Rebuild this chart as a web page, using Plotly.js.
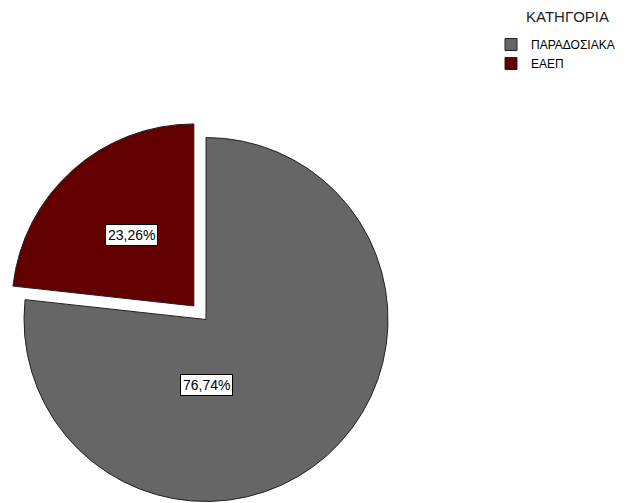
<!DOCTYPE html>
<html>
<head>
<meta charset="utf-8">
<script src="https://cdn.plot.ly/plotly-3.0.1.min.js"></script>
<style>
html,body{margin:0;padding:0;overflow:hidden;background:#fff;}
#chart{width:630px;height:640px;}
</style>
</head>
<body>
<div id="chart"></div>
<script>
// ---- data ----
var categories = ["ΠΑΡΑΔΟΣΙΑΚΑ", "ΕΑΕΠ"];
var percentages = [76.74, 23.26];
var sliceColors = ["#666666", "#620000"];
var pulls = [0, 0.1];
var legendTitle = "ΚΑΤΗΓΟΡΙΑ";

function fmt(v){ return v.toFixed(2).replace('.', ',') + '%'; }

var W = 630, H = 640;
function px(x){ return x / W; }
function py(y){ return 1 - y / H; }

var cx = 206, cy = 319.5, half = 200.2;
var FONT = 'Liberation Sans, Arial, sans-serif';

var trace = {
  type: 'pie',
  labels: categories,
  values: percentages,
  sort: false,
  direction: 'clockwise',
  rotation: 0,
  pull: pulls,
  textinfo: 'none',
  hoverinfo: 'label+percent',
  marker: { colors: sliceColors, line: { color: '#222222', width: 1 } },
  domain: { x: [px(cx - half), px(cx + half)], y: [py(cy + half), py(cy - half)] }
};

var labelPos = [[206.5, 384.5], [131, 234.5]];
var annotations = percentages.map(function(v, i){
  return {
    text: fmt(v),
    x: px(labelPos[i][0]), y: py(labelPos[i][1]),
    xref: 'paper', yref: 'paper', xanchor: 'center', yanchor: 'middle',
    showarrow: false,
    font: { family: FONT, size: 14, color: '#000' },
    bgcolor: '#ffffff', bordercolor: '#000000', borderwidth: 1, borderpad: 2
  };
});
annotations.push({
  text: legendTitle,
  x: px(567), y: py(16), xref: 'paper', yref: 'paper',
  xanchor: 'center', yanchor: 'middle', showarrow: false,
  font: { family: FONT, size: 15, color: '#222' }
});

var layout = {
  width: W, height: H,
  margin: { l: 0, r: 0, t: 0, b: 0, pad: 0 },
  paper_bgcolor: '#ffffff',
  showlegend: true,
  legend: {
    x: px(491), y: py(30), xanchor: 'left', yanchor: 'top',
    font: { family: FONT, size: 12, color: '#000' },
    itemwidth: 30,
    tracegroupgap: 0,
    traceorder: 'normal'
  },
  annotations: annotations
};

Plotly.newPlot('chart', [trace], layout, { displayModeBar: false, staticPlot: true });
</script>
</body>
</html>
